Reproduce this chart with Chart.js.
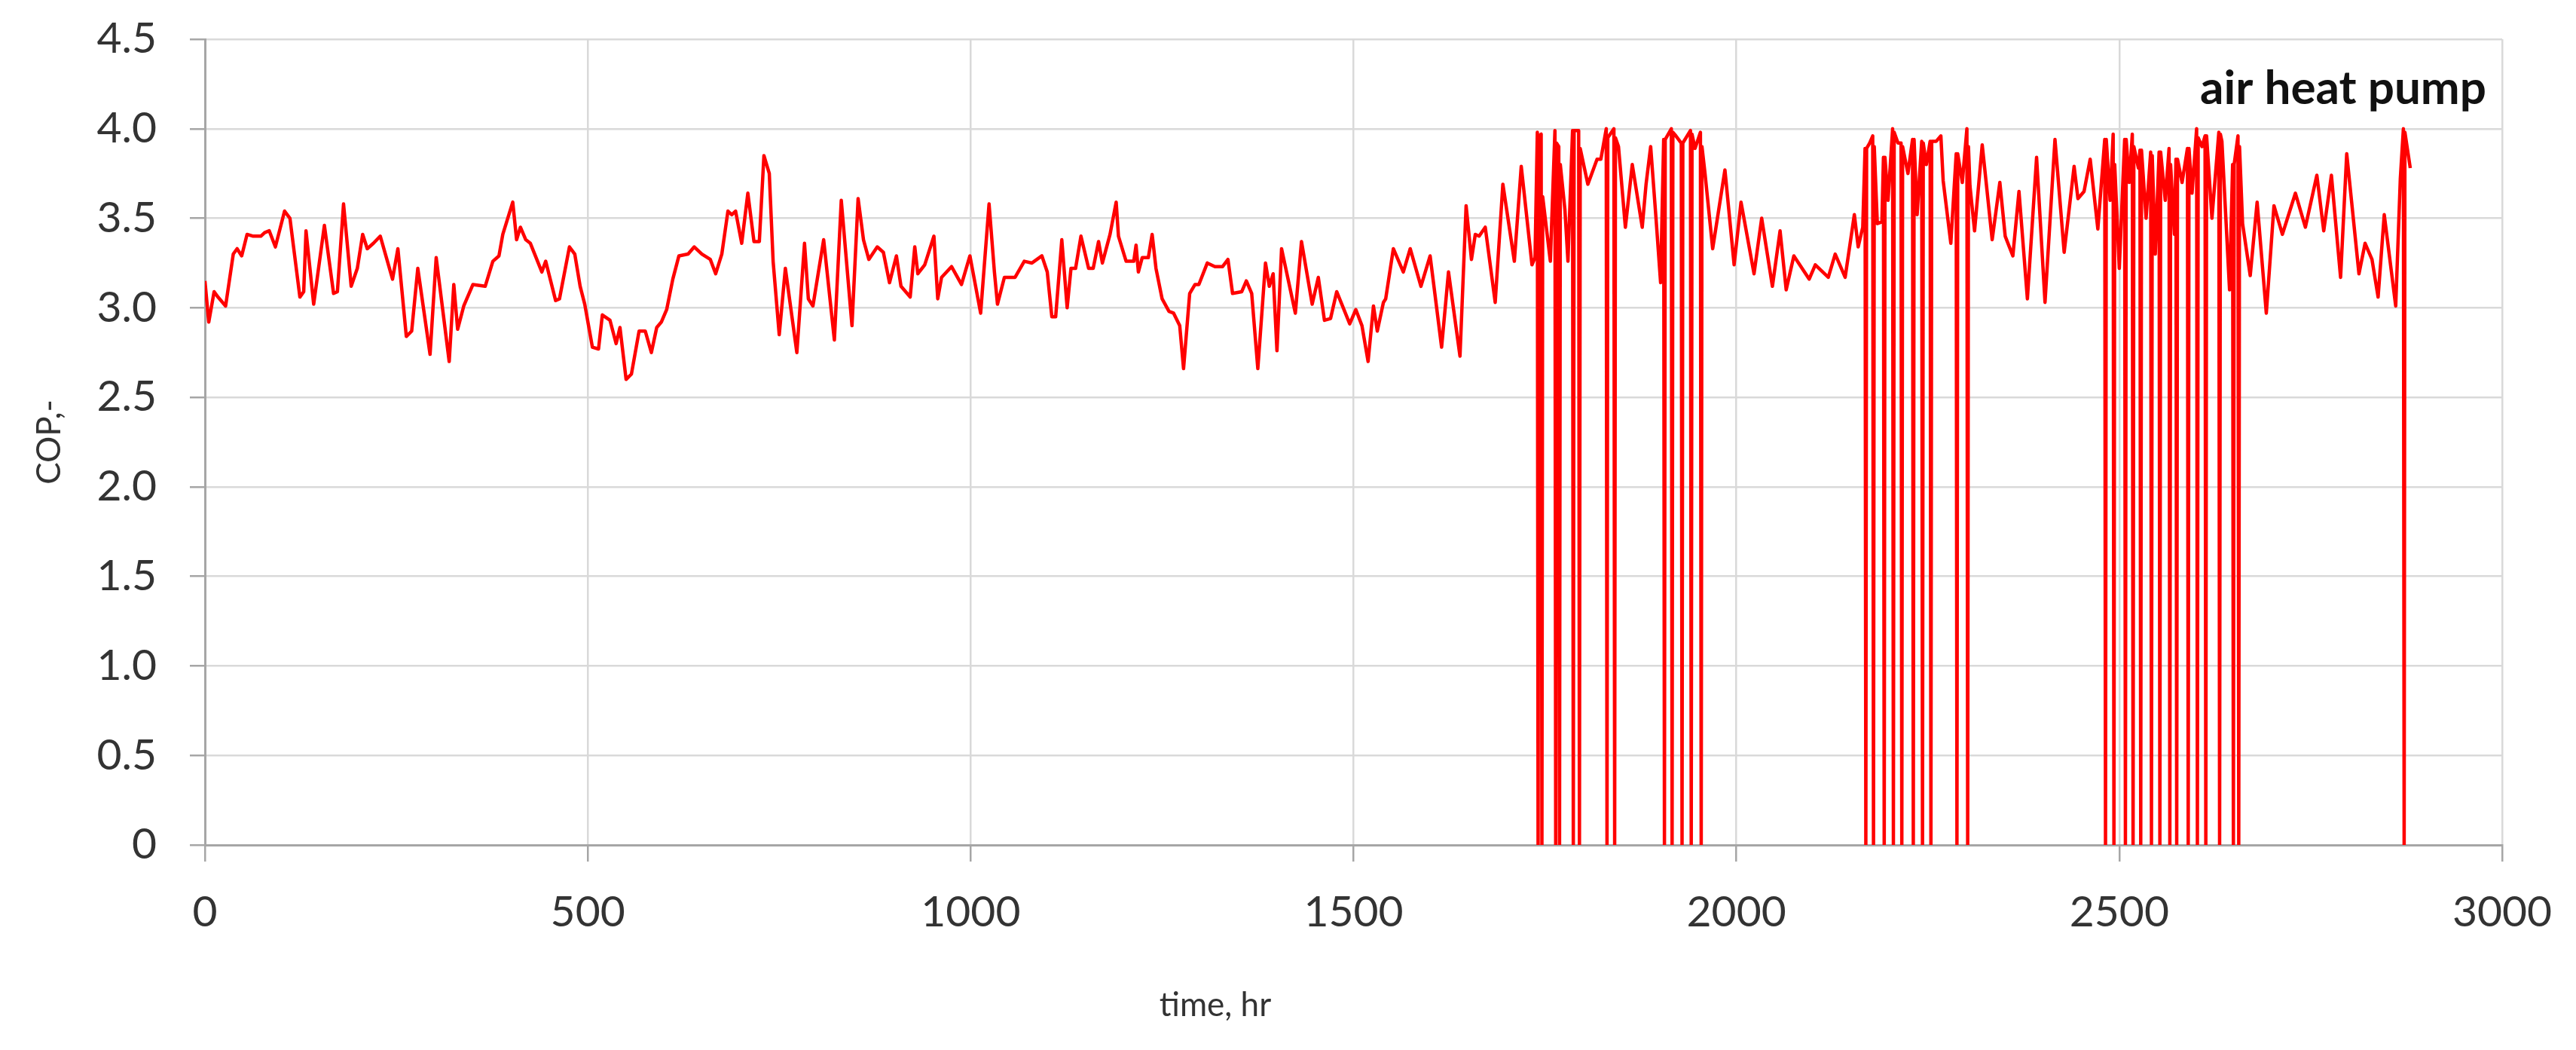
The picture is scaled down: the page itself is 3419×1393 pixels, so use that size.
<!doctype html>
<html lang="en">
<head>
    <meta charset="utf-8">
    <title>air heat pump COP</title>
    <script src="https://cdn.jsdelivr.net/npm/chart.js@4.4.1/dist/chart.umd.min.js"></script>
    <style>
        html, body { margin: 0; padding: 0; background: #fff; }
        canvas { display: block; }
    </style>
</head>
<body>
<canvas id="chart" width="3419" height="1393"></canvas>
<script>
    // time, hr
    const hours = [
        0, 5, 12, 17, 27, 37, 42, 48, 55, 63, 73, 78, 84, 92, 104, 111, 124, 129, 132, 142,
        156, 168, 173, 181, 191, 199, 206, 212, 220, 229, 245, 252, 263, 270, 278, 294, 302, 319, 325, 330,
        338, 350,
        366, 376, 384, 389, 402, 407, 412, 419, 425, 440, 445, 458, 463, 476, 483, 490, 496, 506, 514, 519,
        529, 537, 542, 550, 557, 567, 575, 583, 590, 596, 603, 611, 619, 631, 639, 649, 660, 667, 675, 683,
        688, 693, 701, 709, 717, 724,
        730, 737, 742, 750, 758, 773, 783, 788, 794, 808, 822, 831, 837, 845, 853, 860, 867, 878, 886, 894,
        903, 909, 921, 927, 931, 940, 952, 957, 962, 975, 988, 999, 1013, 1024, 1031, 1035, 1044, 1058, 1070,
        1080, 1093, 1100, 1106, 1111, 1119, 1126, 1131, 1137, 1144, 1154, 1160, 1167, 1172, 1182, 1190, 1193, 1203, 1213, 1216,
        1219, 1224, 1232, 1237, 1242, 1250, 1259, 1265, 1273, 1278, 1286, 1293, 1298, 1309, 1319, 1329, 1336, 1342, 1354, 1360,
        1367, 1375, 1385, 1390, 1395, 1400, 1406, 1424, 1432, 1446,
        1454, 1462, 1470, 1478, 1495, 1503, 1511, 1519, 1526, 1531, 1539, 1542, 1552, 1565, 1574, 1588, 1600, 1615, 1624, 1639,
        1647, 1654, 1659, 1664, 1672, 1685, 1695, 1710, 1719, 1733, 1737, 1740, 1741, 1742, 1745, 1746, 1747, 1757, 1763, 1764,
        1765, 1768, 1769, 1770, 1776, 1780, 1786, 1787, 1788, 1794, 1795, 1796, 1806,
        1818, 1823, 1830, 1831, 1832, 1840, 1841, 1842, 1846, 1855, 1864, 1877, 1882, 1888, 1895, 1901, 1905, 1906, 1907, 1915,
        1916, 1917, 1921, 1928, 1929, 1930, 1940, 1941, 1942, 1946, 1953, 1954, 1955, 1959, 1969, 1985, 1997, 2006, 2023, 2033,
        2047, 2057, 2065, 2075, 2095, 2103, 2120, 2129, 2142, 2154, 2159, 2165, 2168, 2169, 2170, 2174, 2178, 2179, 2180,
        2184, 2190, 2192, 2193, 2194, 2198, 2204, 2205, 2206, 2211, 2215, 2216, 2217, 2224, 2230, 2231, 2232, 2236, 2242, 2243,
        2244, 2248, 2253, 2254, 2255, 2261, 2267, 2270, 2280, 2287, 2288, 2289, 2295, 2301, 2302, 2303, 2305, 2311, 2321, 2334,
        2344, 2351, 2361, 2369, 2380, 2392, 2403, 2416, 2428, 2441, 2446, 2454, 2462, 2472, 2481, 2482, 2483, 2488, 2492, 2493,
        2494, 2500, 2507, 2508, 2509, 2513, 2517, 2518, 2519, 2525, 2527, 2528, 2529, 2535, 2541, 2542, 2543,
        2547, 2552, 2553, 2554, 2560, 2565, 2566, 2567, 2572, 2574, 2575, 2576, 2582, 2589, 2590, 2591, 2595, 2601, 2602, 2603,
        2608, 2612, 2613, 2614, 2621, 2630, 2631, 2632, 2634, 2644, 2648, 2649, 2650, 2655, 2656, 2657, 2661, 2671, 2680, 2692,
        2702, 2713, 2730, 2743, 2758, 2767, 2777, 2789, 2797, 2813, 2821, 2830, 2838, 2846, 2861, 2867, 2871, 2872, 2873, 2880
    ];

    // COP,-
    const cop = [
        3.15, 2.92, 3.09, 3.06, 3.01, 3.30, 3.33, 3.29, 3.41, 3.40, 3.40, 3.42, 3.43, 3.34, 3.54, 3.50, 3.06, 3.09, 3.43, 3.02,
        3.46, 3.08, 3.09, 3.58, 3.12, 3.22, 3.41, 3.33, 3.36, 3.40, 3.16, 3.33, 2.84, 2.87, 3.22, 2.74, 3.28, 2.70, 3.13, 2.88,
        3.01, 3.13,
        3.12, 3.26, 3.29, 3.41, 3.59, 3.38, 3.45, 3.38, 3.36, 3.20, 3.26, 3.04, 3.05, 3.34, 3.30, 3.12, 3.02, 2.78, 2.77, 2.96,
        2.93, 2.80, 2.89, 2.60, 2.63, 2.87, 2.87, 2.75, 2.89, 2.92, 2.99, 3.16, 3.29, 3.30, 3.34, 3.30, 3.27, 3.19, 3.30, 3.54,
        3.52, 3.54, 3.36, 3.64, 3.37, 3.37,
        3.85, 3.75, 3.26, 2.85, 3.22, 2.75, 3.36, 3.05, 3.01, 3.38, 2.82, 3.60, 3.30, 2.90, 3.61, 3.38, 3.27, 3.34, 3.31, 3.14,
        3.29, 3.12, 3.06, 3.34, 3.19, 3.24, 3.40, 3.05, 3.17, 3.23, 3.13, 3.29, 2.97, 3.58, 3.20, 3.02, 3.17, 3.17, 3.26,
        3.25, 3.29, 3.20, 2.95, 2.95, 3.38, 3.00, 3.22, 3.22, 3.40, 3.22, 3.22, 3.37, 3.25, 3.41, 3.59, 3.40, 3.26, 3.26, 3.35,
        3.20, 3.28, 3.28, 3.41, 3.22, 3.05, 2.98, 2.97, 2.90, 2.66, 3.08, 3.13, 3.13, 3.25, 3.23, 3.23, 3.27, 3.08, 3.09, 3.15,
        3.08, 2.66, 3.25, 3.12, 3.19, 2.76, 3.33, 2.97, 3.37, 3.02,
        3.17, 2.93, 2.94, 3.09, 2.91, 2.99, 2.90, 2.70, 3.01, 2.87, 3.03, 3.05, 3.33, 3.20, 3.33, 3.12, 3.29, 2.78, 3.20, 2.73,
        3.57, 3.27, 3.41, 3.40, 3.45, 3.03, 3.69, 3.26, 3.79, 3.24, 3.28, 3.98, 0, 3.96, 3.97, 0, 3.62, 3.26, 3.99, 0,
        3.92, 3.90, 0, 3.80, 3.55, 3.26, 3.99, 0, 3.99, 3.99, 0, 3.89, 3.69,
        3.83, 3.83, 4.00, 0, 3.95, 4.00, 0, 3.95, 3.90, 3.45, 3.80, 3.45, 3.69, 3.90, 3.50, 3.14, 3.94, 0, 3.94, 4.00,
        0, 3.98, 3.96, 3.92, 0, 3.92, 3.99, 0, 3.97, 3.89, 3.98, 0, 3.90, 3.75, 3.33, 3.77, 3.24, 3.59, 3.19, 3.50,
        3.12, 3.43, 3.10, 3.29, 3.16, 3.24, 3.17, 3.30, 3.17, 3.52, 3.34, 3.45, 3.89, 0, 3.89, 3.92, 3.96, 0, 3.90,
        3.47, 3.48, 3.84, 0, 3.84, 3.60, 4.00, 0, 3.98, 3.92, 3.92, 0, 3.90, 3.75, 3.94, 0, 3.94, 3.52, 3.93, 0,
        3.92, 3.80, 3.93, 0, 3.93, 3.93, 3.96, 3.71, 3.36, 3.86, 0, 3.86, 3.70, 4.00, 0, 3.90, 3.68, 3.43, 3.91, 3.38,
        3.70, 3.40, 3.29, 3.65, 3.05, 3.84, 3.03, 3.94, 3.31, 3.79, 3.61, 3.65, 3.83, 3.44, 3.94, 0, 3.94, 3.60, 3.97, 0,
        3.80, 3.22, 3.94, 0, 3.94, 3.70, 3.97, 0, 3.90, 3.78, 3.88, 0, 3.88, 3.50, 3.87, 0, 3.85,
        3.30, 3.87, 0, 3.87, 3.60, 3.89, 0, 3.80, 3.41, 3.83, 0, 3.83, 3.70, 3.89, 0, 3.89, 3.64, 4.00, 0, 3.95,
        3.90, 3.96, 0, 3.96, 3.50, 3.98, 0, 3.97, 3.93, 3.10, 3.80, 0, 3.80, 3.96, 0, 3.90, 3.47, 3.18, 3.59, 2.97,
        3.57, 3.41, 3.64, 3.45, 3.74, 3.43, 3.74, 3.17, 3.86, 3.19, 3.36, 3.27, 3.06, 3.52, 3.01, 3.72, 4.00, 0, 3.98, 3.78
    ];

    const seriesName = 'air heat pump';
    const xTitle = 'time, hr';
    const yTitle = 'COP,-';

    const points = hours.map((h, i) => ({x: h, y: cop[i]}));

    const textFont = 'Lato';

    // 曲线名称与横轴标题
    const labelPlugin = {
        id: 'labels',
        afterDraw(chart) {
            const ctx = chart.ctx;
            ctx.save();
            ctx.fillStyle = '#111';
            ctx.font = 'bold 62px ' + textFont;
            ctx.textAlign = 'right';
            ctx.textBaseline = 'alphabetic';
            ctx.fillText(seriesName, 3300, 138);

            ctx.fillStyle = '#333';
            ctx.font = '44px ' + textFont;
            ctx.textAlign = 'center';
            ctx.textBaseline = 'middle';
            ctx.fillText(xTitle, 1613, 1334);
            ctx.restore();
        }
    };

    new Chart(document.getElementById('chart').getContext('2d'), {
        type: 'line',
        data: {
            datasets: [{
                label: seriesName,
                data: points,
                borderColor: '#ff0000',
                borderWidth: 4.5,
                borderJoinStyle: 'round',
                pointRadius: 0,
                tension: 0,
                fill: false
            }]
        },
        options: {
            responsive: false,
            animation: false,
            devicePixelRatio: 1,
            layout: {
                padding: {top: 52, right: 98, bottom: 0, left: 0}
            },
            plugins: {
                legend: {display: false},
                tooltip: {enabled: false}
            },
            scales: {
                x: {
                    type: 'linear',
                    min: 0,
                    max: 3000,
                    afterFit: s => {
                        s.height = 272;
                        s.paddingLeft = 0;
                        s.paddingRight = 0;
                    },
                    ticks: {
                        stepSize: 500,
                        maxRotation: 0,
                        padding: 33,
                        color: '#333',
                        font: {family: textFont, size: 57},
                        callback: v => String(v)
                    },
                    grid: {
                        color: '#d9d9d9',
                        lineWidth: 2.5,
                        tickLength: 22,
                        tickColor: '#a6a6a6',
                        tickWidth: 2.5
                    },
                    border: {color: '#a6a6a6', width: 3}
                },
                y: {
                    min: 0,
                    max: 4.5,
                    afterFit: s => {
                        s.width = 272;
                        s.paddingTop = 0;
                        s.paddingBottom = 0;
                    },
                    ticks: {
                        stepSize: 0.5,
                        padding: 44,
                        color: '#333',
                        font: {family: textFont, size: 57},
                        callback: v => v === 0 ? '0' : v.toFixed(1)
                    },
                    title: {
                        display: true,
                        text: yTitle,
                        color: '#333',
                        font: {family: textFont, size: 44},
                        padding: {top: 39, bottom: 0}
                    },
                    grid: {
                        color: '#d9d9d9',
                        lineWidth: 2.5,
                        tickLength: 20,
                        tickColor: '#a6a6a6',
                        tickWidth: 2.5
                    },
                    border: {color: '#a6a6a6', width: 3}
                }
            }
        },
        plugins: [labelPlugin]
    });
</script>
</body>
</html>
